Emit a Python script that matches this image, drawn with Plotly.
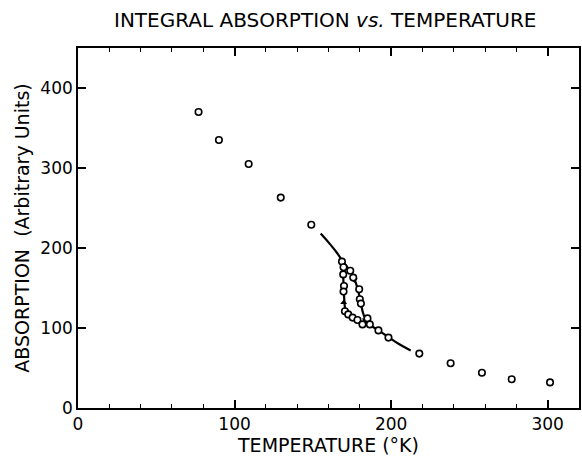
import plotly.graph_objects as go

# Data
temp_pts = [77, 90, 109, 129.5, 149,
            168.6, 169.6, 173.9, 169.4, 175.8, 169.9, 169.6, 179.6, 180.0, 180.7,
            170.5, 172.6, 175.4, 178.5, 184.9, 181.7, 186.4, 191.9, 198.3,
            218, 238, 258, 277, 301.5]
abs_pts = [370, 335, 305, 263, 229,
           183, 176, 171.5, 167, 163, 152.5, 145.5, 148.5, 136, 130.5,
           121, 117, 113, 110, 112, 104.5, 104.5, 97, 88,
           68, 56, 44, 36, 32]

# Hysteresis curve segments
upper_T = [155, 160, 165, 168.5]
upper_A = [218, 207, 195, 185]
right_T = [168.5, 172, 175.5, 178.5, 180.5, 182.5, 186]
right_A = [185, 176, 166, 150, 133, 116, 104]
left_T = [168.5, 169.2, 169.6, 170, 171, 174, 178, 182, 186]
left_A = [185, 172, 155, 138, 122, 115, 110, 106, 104]
lower_T = [186, 192, 198, 205, 212.5]
lower_A = [104, 97, 89, 80, 72]

arrow_up_T = [169.7]
arrow_up_A = [132]
arrow_down_T = [176.5, 183.5]
arrow_down_A = [160, 110]

x_ticks = [0, 100, 200, 300]
y_ticks = [0, 100, 200, 300, 400]

fig = go.Figure()
line_style = dict(color="black", width=2.2)
for tx, ay in [(upper_T, upper_A), (right_T, right_A), (left_T, left_A), (lower_T, lower_A)]:
    fig.add_trace(go.Scatter(x=tx, y=ay, mode="lines", line=dict(**line_style, shape="spline"),
                             showlegend=False, hoverinfo="skip"))

fig.add_trace(go.Scatter(x=arrow_up_T, y=arrow_up_A, mode="markers",
                         marker=dict(symbol="triangle-up", size=6, color="black"),
                         showlegend=False))
fig.add_trace(go.Scatter(x=arrow_down_T, y=arrow_down_A, mode="markers",
                         marker=dict(symbol="triangle-down", size=6, color="black"),
                         showlegend=False))

fig.add_trace(go.Scatter(x=temp_pts, y=abs_pts, mode="markers",
                         marker=dict(symbol="circle", size=6.5, color="white",
                                     line=dict(color="black", width=1.6)),
                         showlegend=False))

font_family = "DejaVu Sans"
fig.update_layout(
    width=582, height=456,
    margin=dict(l=78, r=1, t=48, b=48),
    paper_bgcolor="white", plot_bgcolor="white",
    font=dict(family=font_family, color="black", size=16),
    annotations=[dict(
        text="INTEGRAL ABSORPTION <i>vs.</i> TEMPERATURE",
        x=(326 - 78) / (582 - 79), y=(408 - 20) / (408 - 48),
        xref="paper", yref="paper", showarrow=False,
        xanchor="center", yanchor="middle",
        font=dict(size=20, family=font_family, color="black"))],
)

fig.update_xaxes(
    range=[0, 320], tickmode="array", tickvals=x_ticks, ticktext=[str(v) for v in x_ticks],
    ticks="inside", ticklen=8, tickwidth=1.5, tickcolor="black",
    minor=dict(dtick=20, ticks="inside", ticklen=4, tickwidth=1.2, tickcolor="black"),
    showline=True, linecolor="black", linewidth=1.6, mirror="ticks",
    showgrid=False, zeroline=False,
    tickfont=dict(size=17, family=font_family),
    title=dict(text="TEMPERATURE (°K)", font=dict(size=19, family=font_family), standoff=4),
)
fig.update_yaxes(
    range=[0, 450], tickmode="array", tickvals=y_ticks, ticktext=[str(v) for v in y_ticks],
    ticks="inside", ticklen=8, tickwidth=1.5, tickcolor="black",
    showline=True, linecolor="black", linewidth=1.6, mirror="ticks",
    showgrid=False, zeroline=False,
    tickfont=dict(size=17, family=font_family),
    title=dict(text="ABSORPTION  (Arbitrary Units)", font=dict(size=19, family=font_family), standoff=6),
)

fig.write_html("out.html")
